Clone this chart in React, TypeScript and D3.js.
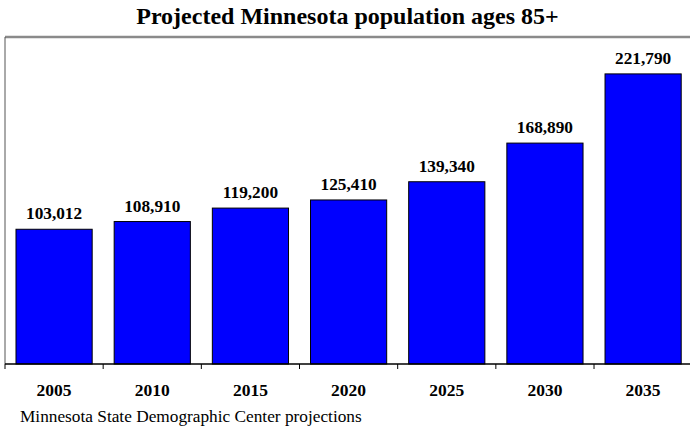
import React from "react";
import * as d3 from "d3";

const years = ["2005", "2010", "2015", "2020", "2025", "2030", "2035"];
const population = [103012, 108910, 119200, 125410, 139340, 168890, 221790];
const title = "Projected Minnesota population ages 85+";
const source = "Minnesota State Demographic Center projections";

export default function App() {
  const W = 690, H = 428;
  const left = 5, right = 692.2, top = 37, bottom = 364;
  const font = "'Liberation Serif', 'Times New Roman', serif";
  const x = d3.scaleBand<string>().domain(years).range([left, right]).paddingInner(0.224).paddingOuter(0.112);
  const y = d3.scaleLinear().domain([0, 250000]).range([bottom, top]);
  const fmt = d3.format(",");
  const step = x.step();
  return (
    <svg width={W} height={H} style={{ position: "absolute", left: 0, top: 0, background: "#fff" }}>
      <text x={347.5} y={23.5} textAnchor="middle" fontFamily={font} fontWeight="bold" fontSize={24}>{title}</text>
      <line x1={left} x2={right} y1={top} y2={top} stroke="#8a8a8a" strokeWidth={2.5} />
      <line x1={left} x2={left} y1={top} y2={bottom} stroke="#555" strokeWidth={1} />
      {years.map((yr, i) => (
        <g key={yr}>
          <rect x={x(yr)} y={y(population[i])} width={x.bandwidth()} height={bottom - y(population[i])} fill="#0000ff" stroke="#000" strokeWidth={1} />
          <text x={(x(yr) as number) + x.bandwidth() / 2} y={y(population[i]) - 10} textAnchor="middle" fontFamily={font} fontWeight="bold" fontSize={17.3}>{fmt(population[i])}</text>
          <text x={(x(yr) as number) + x.bandwidth() / 2} y={395.5} textAnchor="middle" fontFamily={font} fontWeight="bold" fontSize={17.5}>{yr}</text>
        </g>
      ))}
      <line x1={left} x2={right} y1={bottom} y2={bottom} stroke="#000" strokeWidth={1.5} />
      {d3.range(years.length + 1).map((i) => (
        <line key={i} x1={left + i * step} x2={left + i * step} y1={bottom} y2={bottom + 5} stroke="#000" strokeWidth={1} />
      ))}
      <text x={20} y={421.5} fontFamily={font} fontSize={17.3}>{source}</text>
    </svg>
  );
}
